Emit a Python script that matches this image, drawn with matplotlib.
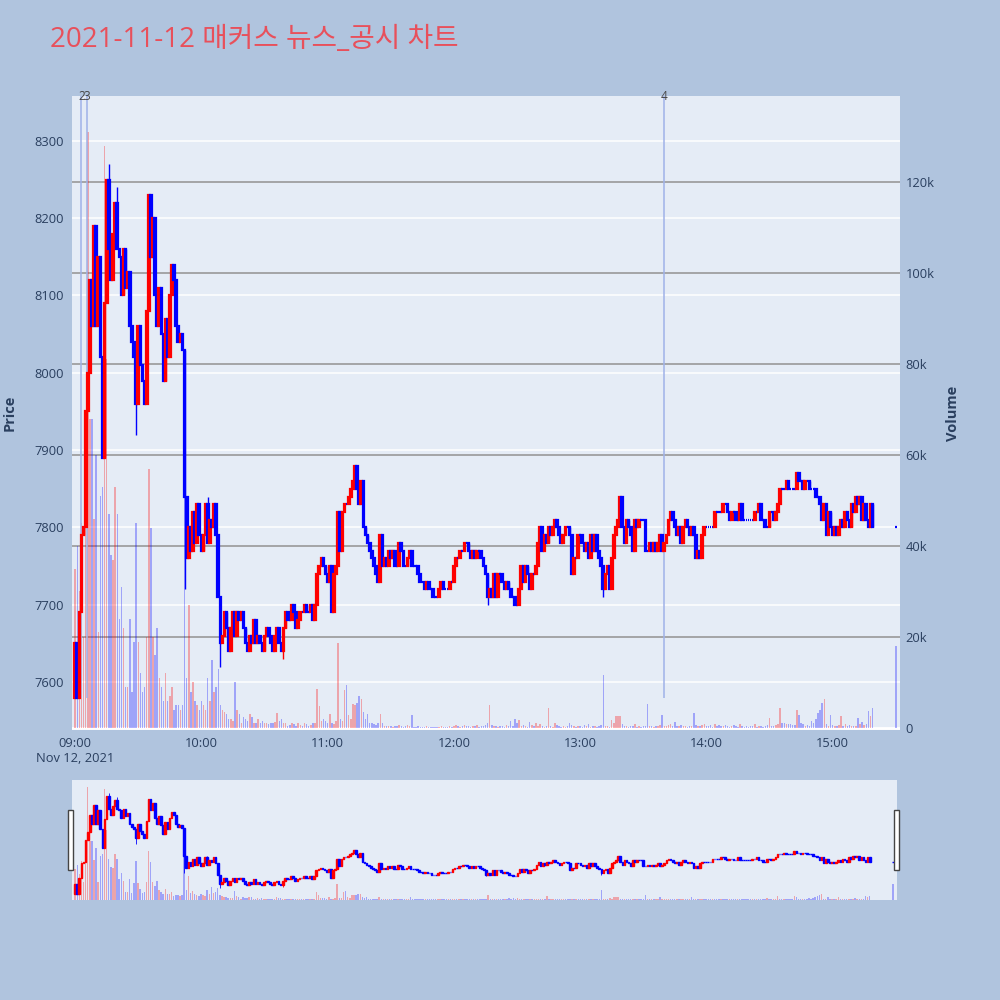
import numpy as np
import matplotlib.pyplot as plt
from matplotlib.patches import Rectangle
from matplotlib.transforms import blended_transform_factory

plt.rcParams["font.family"] = ["Open Sans", "Noto Sans CJK KR", "DejaVu Sans"]

# 1분봉 종가 (09:00 ~ 15:19), 시가 = 직전 종가
FIRST_OPEN = 7580
CLOSE = [
    7650, 7580, 7690, 7790, 7800, 7950, 8000, 8120, 8060, 8190,
    8060, 8150, 8020, 7890, 8090, 8250, 8160, 8120, 8180, 8220,
    8160, 8150, 8100, 8160, 8110, 8130, 8060, 8040, 8020, 7960,
    8060, 8010, 7990, 7960, 8080, 8230, 8150, 8200, 8100, 8060,
    8110, 8050, 7990, 8070, 8020, 8100, 8140, 8120, 8060, 8040,
    8050, 8030, 7840, 7760, 7800, 7770, 7820, 7780, 7830, 7790,
    7770, 7790, 7830, 7780, 7810, 7800, 7830, 7790, 7710, 7650,
    7660, 7690, 7670, 7640, 7670, 7690, 7660, 7690, 7680, 7690,
    7670, 7650, 7640, 7660, 7650, 7680, 7650, 7660, 7650, 7640,
    7660, 7670, 7660, 7650, 7640, 7660, 7670, 7650, 7640, 7670,
    7690, 7680, 7680, 7700, 7690, 7670, 7680, 7690, 7690, 7700,
    7690, 7690, 7700, 7680, 7700, 7740, 7750, 7760, 7750, 7740,
    7730, 7750, 7690, 7740, 7750, 7820, 7770, 7820, 7830, 7830,
    7840, 7850, 7860, 7880, 7850, 7830, 7860, 7800, 7790, 7780,
    7770, 7760, 7750, 7740, 7730, 7790, 7750, 7760, 7750, 7770,
    7760, 7770, 7750, 7750, 7780, 7770, 7750, 7750, 7760, 7770,
    7750, 7750, 7750, 7740, 7730, 7730, 7720, 7730, 7720, 7720,
    7710, 7710, 7710, 7720, 7730, 7720, 7720, 7720, 7730, 7730,
    7750, 7760, 7760, 7770, 7770, 7780, 7780, 7770, 7760, 7770,
    7760, 7770, 7770, 7760, 7750, 7740, 7710, 7720, 7710, 7740,
    7710, 7740, 7740, 7730, 7720, 7730, 7720, 7710, 7710, 7700,
    7700, 7720, 7750, 7730, 7750, 7740, 7720, 7740, 7740, 7750,
    7780, 7800, 7770, 7790, 7780, 7800, 7790, 7800, 7810, 7800,
    7790, 7780, 7790, 7800, 7800, 7790, 7740, 7760, 7760, 7790,
    7790, 7780, 7770, 7780, 7760, 7790, 7770, 7790, 7770, 7760,
    7750, 7720, 7740, 7750, 7720, 7760, 7790, 7800, 7810, 7840,
    7800, 7780, 7810, 7800, 7790, 7770, 7810, 7800, 7810, 7810,
    7810, 7770, 7770, 7780, 7770, 7780, 7770, 7780, 7790, 7770,
    7780, 7790, 7810, 7820, 7810, 7800, 7790, 7800, 7780, 7800,
    7810, 7800, 7790, 7800, 7790, 7760, 7770, 7760, 7790, 7800,
    7800, 7800, 7800, 7800, 7820, 7820, 7820, 7820, 7830, 7830,
    7820, 7810, 7820, 7820, 7810, 7810, 7830, 7810, 7810, 7810,
    7810, 7810, 7810, 7820, 7820, 7830, 7810, 7810, 7800, 7800,
    7820, 7820, 7810, 7820, 7830, 7850, 7850, 7850, 7860, 7850,
    7850, 7850, 7850, 7870, 7860, 7860, 7850, 7860, 7860, 7850,
    7850, 7850, 7840, 7840, 7830, 7810, 7830, 7790, 7820, 7800,
    7790, 7800, 7790, 7800, 7810, 7800, 7820, 7810, 7800, 7830,
    7820, 7840, 7830, 7840, 7810, 7830, 7810, 7800, 7830, 7800,
]
WICK_HI = {16: 8270, 20: 8240, 63: 7840, 126: 7810, 259: 7840}
WICK_LO = {29: 7920, 52: 7720, 69: 7620, 99: 7630, 196: 7700, 251: 7710, 295: 7760}

# 거래량 (천 주)
VOL_K = [
    35, 40, 30, 45, 20, 68, 131, 68, 68, 46,
    60, 21, 51, 53, 128, 81, 47, 38, 37, 53,
    47, 24, 31, 22, 9, 9, 24, 8, 19, 45,
    19, 12, 8, 9, 20, 57, 44, 20, 16, 22,
    11, 9, 6, 12, 6, 7, 9, 4, 5, 5,
    4, 5, 60, 11, 27, 8, 10, 6, 5, 4,
    6, 5, 4, 11, 6, 15, 8, 9, 13, 5,
    4, 3.6, 3, 2, 2, 1.5, 10, 4, 3, 1,
    2.5, 2, 1.5, 3, 2.5, 1, 1, 2, 1, 1.5,
    1, 1.2, 0.8, 1, 1, 1.3, 3.4, 1.5, 2, 1,
    1, 0.5, 0.6, 1, 0.8, 0.5, 1, 0.6, 0.5, 1,
    0.8, 0.5, 0.6, 1.2, 1, 8.6, 4.8, 1.5, 2, 1.5,
    1.2, 3, 1, 0.8, 1.5, 18.7, 2, 1.5, 8.4, 9.5,
    2.8, 2, 5.3, 5, 5.5, 7, 6.3, 3.5, 2, 3,
    1.2, 1, 0.8, 0.6, 1, 3, 1, 0.5, 0.4, 0.5,
    0.4, 0.3, 0.5, 0.4, 0.7, 0.4, 0.3, 0.5, 0.6, 0.4,
    2.9, 0.3, 0.2, 0.4, 0.3, 0.2, 0.3, 0.4, 0.2, 0.3,
    0.3, 0.2, 0.3, 0.2, 0.4, 0.3, 0.2, 0.3, 0.4, 0.3,
    0.5, 0.6, 0.4, 0.3, 0.5, 0.6, 0.4, 0.5, 0.3, 0.4,
    0.4, 0.6, 0.3, 0.5, 0.4, 0.6, 1, 5, 0.6, 0.4,
    0.5, 0.3, 0.5, 0.4, 0.3, 0.6, 0.4, 1.5, 0.4, 2,
    1.2, 1.8, 0.5, 0.6, 0.4, 0.3, 1.3, 0.6, 0.4, 1.2,
    0.4, 0.8, 0.5, 0.3, 0.4, 4.4, 0.5, 0.3, 1, 0.6,
    0.4, 0.3, 0.4, 0.3, 0.5, 1.2, 0.6, 0.4, 0.3, 0.5,
    0.4, 0.3, 0.6, 0.4, 0.8, 0.3, 0.5, 0.4, 0.3, 0.5,
    0.6, 11.7, 0.5, 0.4, 0.3, 1.8, 1.2, 2.6, 2.6, 2.6,
    0.8, 0.5, 0.4, 0.3, 0.5, 0.4, 0.8, 0.3, 0.4, 0.3,
    0.5, 0.4, 5.3, 0.5, 0.4, 0.3, 0.5, 0.4, 0.6, 2.8,
    0.5, 0.4, 0.6, 0.8, 0.5, 1.3, 0.4, 0.5, 0.6, 0.4,
    0.5, 0.3, 0.5, 0.4, 3.3, 0.6, 0.5, 0.4, 0.6, 0.8,
    0.5, 0.4, 0.6, 0.3, 0.8, 0.5, 0.6, 0.4, 0.5, 0.6,
    0.4, 0.3, 0.5, 0.6, 0.4, 0.3, 0.8, 0.5, 0.3, 0.4,
    0.3, 0.5, 0.4, 0.8, 0.3, 0.5, 0.4, 0.3, 0.5, 0.6,
    2.3, 0.5, 0.4, 0.6, 0.8, 4.3, 1, 1.2, 0.9, 0.8,
    0.8, 0.6, 0.7, 4, 2.8, 1.2, 0.8, 0.5, 0.6, 0.4,
    1.5, 1.2, 2, 3.3, 4, 5.5, 6.4, 0.8, 0.5, 2.8,
    0.6, 0.5, 0.4, 0.6, 2.6, 0.5, 0.8, 0.4, 0.6, 0.5,
    0.5, 0.4, 2.3, 0.8, 1.3, 0.6, 0.9, 3.8, 2.6, 4.3,
]
# 15:30 동시호가
LAST_MIN, LAST_PRICE, LAST_VOL_K = 390, 7800, 18

NEWS_MIN = [3.0, 5.6, 280]
NEWS_LABEL = ["2", "3", "4"]

TICK_MIN = [0, 60, 120, 180, 240, 300, 360]
TICK_LABEL = ["09:00\nNov 12, 2021", "10:00", "11:00", "12:00", "13:00", "14:00", "15:00"]
PRICE_TICKS = [7600, 7700, 7800, 7900, 8000, 8100, 8200, 8300]
VOL_TICKS = [0, 20000, 40000, 60000, 80000, 100000, 120000]
VOL_TICK_LABEL = ["0", "20k", "40k", "60k", "80k", "100k", "120k"]

BG = "#B0C4DE"
PLOT_BG = "#E5ECF6"
C_UP = "#FF0000"
C_DN = "#0000FF"
TXT = "#2a3f5f"
XLIM = (-1.5, 392)
PLIM = (7538, 8358)
VLIM = (-440, 138900)

# 데이터 정리
close = np.array(CLOSE + [LAST_PRICE], dtype=float)
opens = np.array([FIRST_OPEN] + CLOSE[:-1] + [LAST_PRICE], dtype=float)
x = np.array(list(range(len(CLOSE))) + [LAST_MIN], dtype=float)
vol = np.array(VOL_K + [LAST_VOL_K]) * 1000
hi = np.maximum(opens, close)
lo = np.minimum(opens, close)
for k, v in WICK_HI.items():
    hi[k] = max(hi[k], v)
for k, v in WICK_LO.items():
    lo[k] = min(lo[k], v)
up = close > opens
col = np.where(up, C_UP, C_DN)
body_b = np.minimum(opens, close)
body_h = np.abs(close - opens)


def draw(ax_v, ax_p, body_lw, wick_lw, vol_w):
    ax_v.bar(x, vol, width=vol_w, color=col, alpha=0.3, linewidth=0, zorder=1)
    ax_p.vlines(x, lo, hi, colors=col, linewidth=wick_lw, zorder=2)
    ax_p.bar(x, body_h, bottom=body_b, width=0.8, color=col, edgecolor=col,
             linewidth=body_lw, zorder=3)
    ax_v.set_xlim(*XLIM)
    ax_v.set_ylim(*VLIM)
    ax_p.set_ylim(*PLIM)
    for a in (ax_v, ax_p):
        for s in a.spines.values():
            s.set_visible(False)


fig = plt.figure(figsize=(10, 10), dpi=100, facecolor=BG)

# 본 차트
axv = fig.add_axes([0.072, 0.270, 0.828, 0.634], facecolor=PLOT_BG)
axp = axv.twinx()
draw(axv, axp, 1.6, 1.0, 0.7)

for p in PRICE_TICKS:
    f = (p - PLIM[0]) / (PLIM[1] - PLIM[0])
    axv.plot([0, 1], [f, f], transform=axv.transAxes, color="white", lw=1.1, zorder=0.5)
for v in VOL_TICKS[1:]:
    axv.axhline(v, color="#999999", lw=1.2, zorder=0.8)
axv.axhline(0, color="white", lw=2, zorder=0.8)

# 뉴스·공시 표시선
trans = blended_transform_factory(axp.transData, axp.transAxes)
for m, lab in zip(NEWS_MIN, NEWS_LABEL):
    axp.vlines(m, 7580, PLIM[1], colors="#9fb2e8", lw=1.3, alpha=0.85, zorder=1)
    axp.text(m, 1.0, lab, transform=trans, ha="center", va="center",
             fontsize=8.5, color="#444444")

axv.set_xticks(TICK_MIN)
axv.set_xticklabels(TICK_LABEL)
axv.tick_params(axis="x", length=0, pad=5, labelsize=9.3, colors=TXT)
axv.yaxis.tick_right()
axv.set_yticks(VOL_TICKS)
axv.set_yticklabels(VOL_TICK_LABEL)
axv.tick_params(axis="y", length=0, pad=4, labelsize=9.3, colors=TXT)
axp.yaxis.tick_left()
axp.set_yticks(PRICE_TICKS)
axp.tick_params(axis="y", length=0, pad=6, labelsize=9.3, colors=TXT)

fig.text(0.010, 0.587, "Price", rotation=90, ha="center", va="center",
         fontsize=10.5, fontweight="bold", color=TXT)
fig.text(0.953, 0.587, "Volume", rotation=90, ha="center", va="center",
         fontsize=10.5, fontweight="bold", color=TXT)
fig.text(0.05, 0.96, "2021-11-12 매커스 뉴스_공시 차트", ha="left", va="center",
         fontsize=20, color="#E8505B")

# 범위 슬라이더
axm = fig.add_axes([0.072, 0.100, 0.825, 0.120], facecolor=PLOT_BG)
axm2 = axm.twinx()
draw(axm, axm2, 1.0, 0.6, 0.7)
for a in (axm, axm2):
    a.set_xticks([])
    a.set_yticks([])
for xl in (0.068, 0.894):
    fig.patches.append(Rectangle((xl, 0.13), 0.005, 0.06, transform=fig.transFigure,
                                 facecolor="white", edgecolor="#444444", lw=1))

fig.savefig("out.png", dpi=100, facecolor=BG)
